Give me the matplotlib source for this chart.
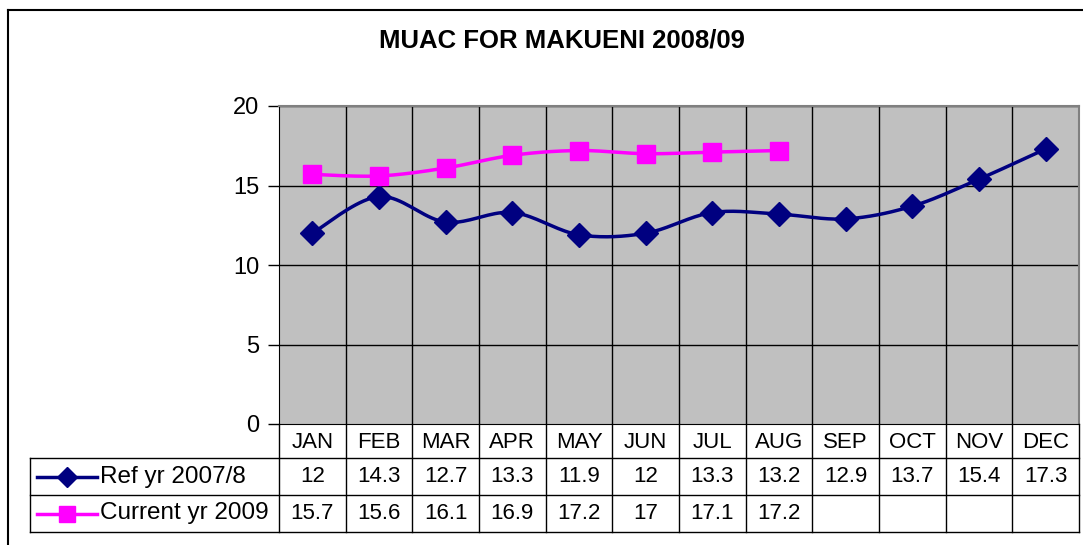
import numpy as np
import matplotlib.pyplot as plt
from matplotlib.lines import Line2D

plt.rcParams['font.family'] = ['Liberation Sans', 'DejaVu Sans']

########## data ##########
months = ['JAN', 'FEB', 'MAR', 'APR', 'MAY', 'JUN', 'JUL', 'AUG', 'SEP', 'OCT', 'NOV', 'DEC']
ref_vals = [12, 14.3, 12.7, 13.3, 11.9, 12, 13.3, 13.2, 12.9, 13.7, 15.4, 17.3]
cur_vals = [15.7, 15.6, 16.1, 16.9, 17.2, 17, 17.1, 17.2]
ref_label = 'Ref yr 2007/8'
cur_label = 'Current yr 2009'
yticks = [0, 5, 10, 15, 20]

NAVY = '#000080'
MAGENTA = '#FF00FF'
FS = 16


def smooth(x, y, n=20):
    # catmull-rom style smoothing, like excel "smoothed line"
    x = np.asarray(x, float)
    y = np.asarray(y, float)
    p = np.column_stack([x, y])
    p = np.vstack([p[0], p, p[-1]])
    out = []
    for i in range(1, len(p) - 2):
        p0, p1, p2, p3 = p[i - 1], p[i], p[i + 1], p[i + 2]
        t = np.linspace(0, 1, n)[:, None]
        c = 0.5 * ((2 * p1) + (-p0 + p2) * t + (2 * p0 - 5 * p1 + 4 * p2 - p3) * t ** 2
                   + (-p0 + 3 * p1 - 3 * p2 + p3) * t ** 3)
        out.append(c)
    out = np.vstack(out)
    return out[:, 0], out[:, 1]


W, H = 1083, 545
fig = plt.figure(figsize=(W / 100, H / 100), dpi=100)

# plot area in pixels
L, R, T, B = 279, 1079, 106, 424
ax = fig.add_axes([L / W, 1 - B / H, (R - L) / W, (B - T) / H])
ax.set_facecolor('#C0C0C0')
ax.set_xlim(-0.5, len(months) - 0.5)
ax.set_ylim(0, 20)
ax.set_yticks(yticks)
ax.tick_params(axis='y', labelsize=FS + 1, length=8, width=1, direction='out', pad=6)
ax.set_xticks([])
for y in yticks[1:]:
    ax.axhline(y, color='black', lw=1, zorder=1)
for i in range(1, len(months)):
    ax.axvline(i - 0.5, color='black', lw=1, zorder=1)
for s in ['top', 'right']:
    ax.spines[s].set_color('#808080')
    ax.spines[s].set_linewidth(1.5)
ax.spines['left'].set_color('black')
ax.spines['bottom'].set_color('black')

x_ref = np.arange(len(ref_vals))
x_cur = np.arange(len(cur_vals))
sx, sy = smooth(x_ref, ref_vals)
ax.plot(sx, sy, color=NAVY, lw=2.5, zorder=3)
ax.plot(x_ref, ref_vals, ls='none', marker='D', ms=12, color=NAVY, zorder=4)
sx, sy = smooth(x_cur, cur_vals)
ax.plot(sx, sy, color=MAGENTA, lw=2.5, zorder=3)
ax.plot(x_cur, cur_vals, ls='none', marker='s', ms=13, color=MAGENTA, zorder=4)

fig.text(562 / W, 1 - 40 / H, 'MUAC FOR MAKUENI 2008/09', ha='center', va='center',
         fontsize=18.5, fontweight='bold')

# outer chart border
fig.add_artist(Line2D([8 / W, 8 / W], [0, 1 - 10 / H], transform=fig.transFigure, color='black', lw=1.5))
fig.add_artist(Line2D([8 / W, 1], [1 - 10 / H, 1 - 10 / H], transform=fig.transFigure, color='black', lw=1.5))

########## data table ##########
col_w = (R - L) / len(months)
rows = [424, 458, 495, 532]
leg_left = 30


def fx(px):
    return px / W


def fy(py):
    return 1 - py / H


def hline(x0, x1, y):
    fig.add_artist(Line2D([fx(x0), fx(x1)], [fy(y), fy(y)], transform=fig.transFigure, color='black', lw=1))


def vline(x, y0, y1):
    fig.add_artist(Line2D([fx(x), fx(x)], [fy(y0), fy(y1)], transform=fig.transFigure, color='black', lw=1))


hline(leg_left, R, rows[1])
hline(leg_left, R, rows[2])
hline(leg_left, R, rows[3])
vline(leg_left, rows[1], rows[3])
for i in range(len(months) + 1):
    vline(L + i * col_w, rows[0], rows[3])

for i, m in enumerate(months):
    cx = L + (i + 0.5) * col_w
    fig.text(fx(cx), fy((rows[0] + rows[1]) / 2 + 1), m, ha='center', va='center', fontsize=FS)
for i, v in enumerate(ref_vals):
    cx = L + (i + 0.5) * col_w
    fig.text(fx(cx), fy((rows[1] + rows[2]) / 2), f'{v:g}', ha='center', va='center', fontsize=FS)
for i, v in enumerate(cur_vals):
    cx = L + (i + 0.5) * col_w
    fig.text(fx(cx), fy((rows[2] + rows[3]) / 2), f'{v:g}', ha='center', va='center', fontsize=FS)

# legend keys inside the table
for r, (lab, col, mk, ms) in enumerate([(ref_label, NAVY, 'D', 10), (cur_label, MAGENTA, 's', 11)]):
    yc = fy((rows[r + 1] + rows[r + 2]) / 2)
    fig.add_artist(Line2D([fx(37), fx(97)], [yc, yc], transform=fig.transFigure, color=col, lw=2.5))
    fig.add_artist(Line2D([fx(67)], [yc], transform=fig.transFigure, color=col, marker=mk, ms=ms, ls='none'))
    fig.text(fx(100), yc, lab, ha='left', va='center', fontsize=FS + 1.5)

fig.savefig('out.png', dpi=100)
